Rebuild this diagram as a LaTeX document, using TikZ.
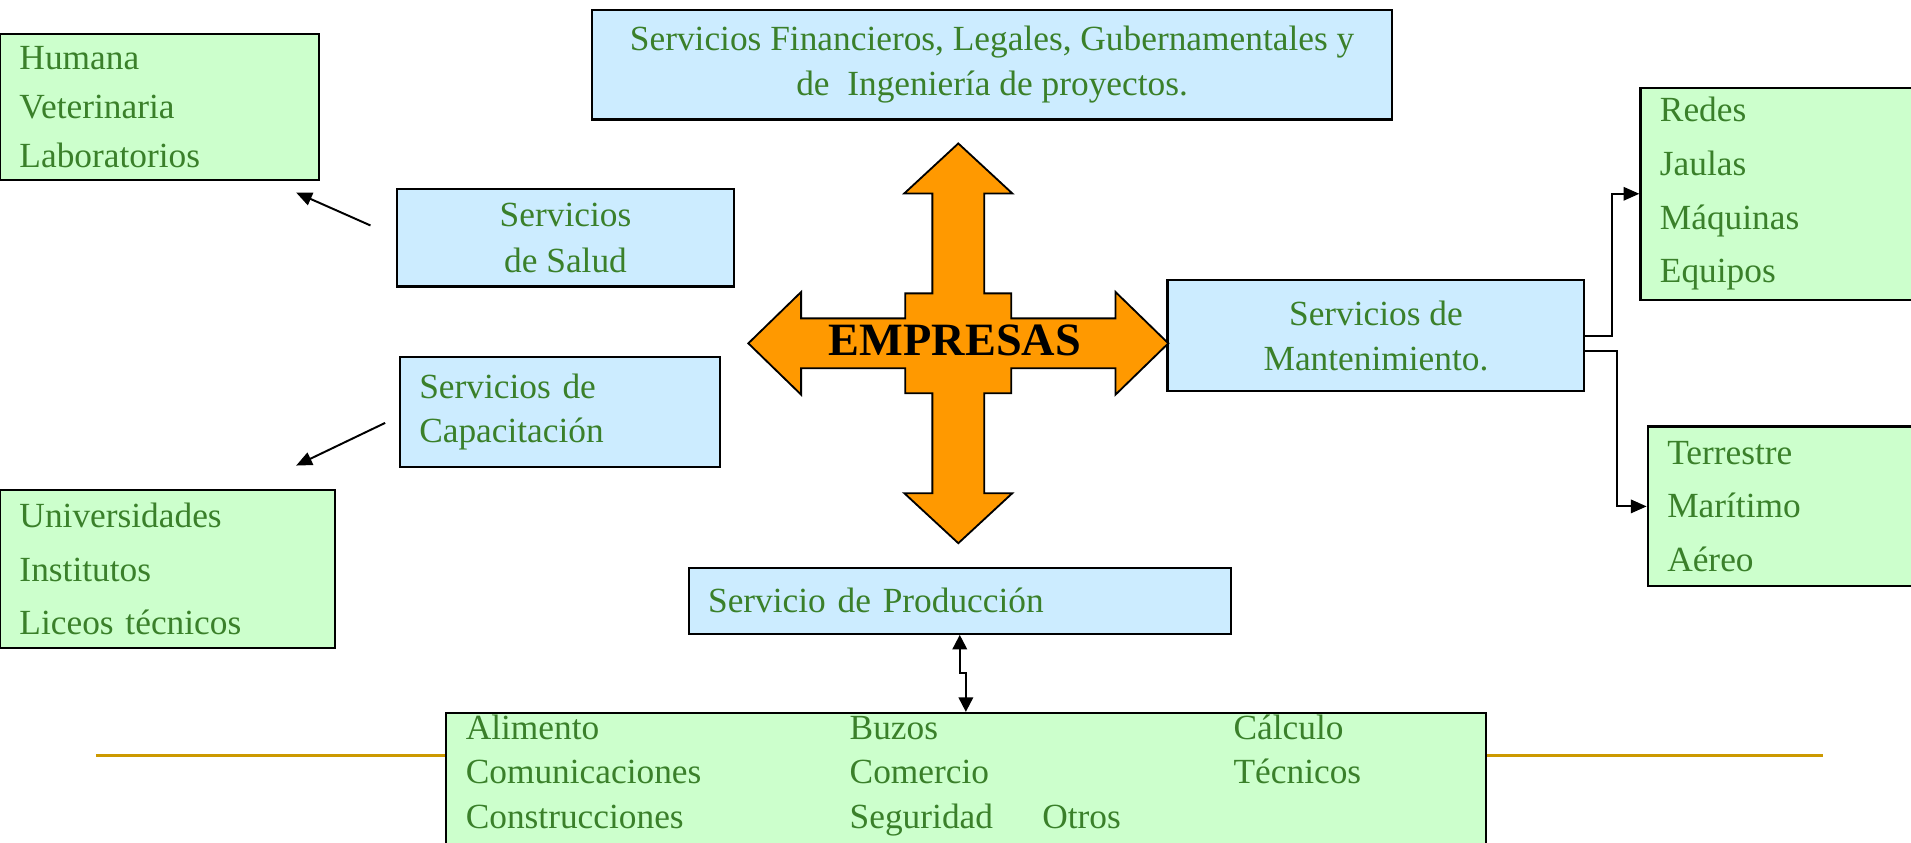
\documentclass[tikz,border=0pt]{standalone}
\usepackage{fontspec}
\setmainfont{Liberation Serif}
\usetikzlibrary{arrows.meta}
\definecolor{txtgreen}{RGB}{58,128,42}
\definecolor{boxblue}{RGB}{204,236,255}
\definecolor{boxgreen}{RGB}{204,255,204}
\definecolor{crossorange}{RGB}{255,153,0}
\definecolor{goldline}{RGB}{204,153,0}
\begin{document}
\begin{tikzpicture}[x=1pt,y=-1pt,
  fs/.style={font=\fontsize{29}{#1}\selectfont},
  bluebox/.style={draw=black,line width=1.8pt,fill=boxblue,text=txtgreen,inner sep=0pt},
  greenbox/.style={draw=black,line width=1.8pt,fill=boxgreen,text=txtgreen,inner sep=0pt},
  lbox/.style={align=left,inner xsep=16pt},
  cbox/.style={align=center},
  btxt/.style={text=txtgreen,fs=36,inner sep=0pt,anchor=base west},
  conn/.style={line width=1.6pt,-{Triangle[length=13pt,width=11pt]}},
  dconn/.style={line width=1.6pt,{Triangle[length=12pt,width=12pt]}-{Triangle[length=12pt,width=12pt]}},
  cross/.style={draw=black,line width=1.5pt,fill=crossorange,line join=miter}
]
\useasboundingbox (0,0) rectangle (1568,691);
\clip (0,0) rectangle (1568,691);
\fill[white] (0,0) rectangle (1568,691);

% gold rule behind bottom box
\coordinate (g1) at (79,620);
\coordinate (g2) at (1496,620);
\draw[goldline,line width=3pt] (g1) -- (g2);

% top box
\node[bluebox,cbox,fs=37,minimum width=656pt,minimum height=90pt] (fin) at (814,53)
  {Servicios Financieros, Legales, Gubernamentales y\\de\ \ Ingeniería de proyectos.};

% left side
\node[greenbox,lbox,fs=40,text width=230pt,minimum height=120pt] (hum) at (131,88)
  {Humana\\Veterinaria\\Laboratorios};
\node[bluebox,cbox,fs=38,minimum width=276pt,minimum height=80pt] (salud) at (464,195)
  {Servicios\\de Salud};
\node[bluebox,lbox,fs=36,text width=231pt,minimum height=90pt] (cap) at (459.5,338)
  {Servicios de\\Capacitación};
\node[greenbox,lbox,fs=44,text width=243pt,minimum height=130pt] (uni) at (137.5,467)
  {Universidades\\Institutos\\Liceos técnicos};

\coordinate (sa1) at (304,185);
\coordinate (sa2) at (243,158);
\draw[conn] (sa1) -- (sa2);
\coordinate (ca1) at (316,347);
\coordinate (ca2) at (243,382);
\draw[conn] (ca1) -- (ca2);

% right side
\node[bluebox,cbox,fs=37,minimum width=342pt,minimum height=91pt] (mant) at (1129,275.5)
  {Servicios de\\Mantenimiento.};
\node[greenbox,lbox,fs=44,text width=228pt,minimum height=174pt] (redes) at (1476,159)
  {Redes\\Jaulas\\Máquinas\\Equipos};
\node[greenbox,lbox,fs=44,text width=228pt,minimum height=131pt] (terr) at (1482,415.5)
  {Terrestre\\Marítimo\\Aéreo};

\draw[conn,line width=1.8pt] (mant.east) -- ++(22,0) |- (redes.west);
\draw[conn,line width=1.8pt] ([yshift=-12.5pt]mant.east) -- ++(26,0) |- (terr.west);

% central cross arrow
\begin{scope}[shift={(786.3,281.7)}]
\draw[cross] (0,-164) -- (44.3,-123) -- (21.3,-123) -- (21.3,-41) -- (43.5,-41)
  -- (43.5,-20.5) -- (129,-20.5) -- (129,-42.1) -- (172.3,0) -- (129,42.1)
  -- (129,20.5) -- (43.5,20.5) -- (43.5,41) -- (21.3,41) -- (21.3,123)
  -- (44.3,123) -- (0,164) -- (-44.3,123) -- (-21.3,123) -- (-21.3,41)
  -- (-43.5,41) -- (-43.5,20.5) -- (-129,20.5) -- (-129,42.1) -- (-172.3,0)
  -- (-129,-42.1) -- (-129,-20.5) -- (-43.5,-20.5) -- (-43.5,-41) -- (-21.3,-41)
  -- (-21.3,-123) -- (-44.3,-123) -- cycle;
\end{scope}
\node[font=\fontsize{38}{38}\selectfont\bfseries,inner sep=0pt,anchor=base] (emp) at (783.6,291.3) {EMPRESAS};

% production
\node[bluebox,lbox,fs=36,text width=413pt,minimum height=54pt] (prod) at (787.5,493)
  {Servicio de Producción};
\node[greenbox,minimum width=853pt,minimum height=150pt] (bot) at (792.5,660) {};
\draw[dconn] (prod.south) -- ++(0,31) -| (bot.north);

\node[btxt] (b11) at (382,607) {Alimento};
\node[btxt] (b21) at (382,643) {Comunicaciones};
\node[btxt] (b31) at (382,680) {Construcciones};
\node[btxt] (b12) at (697,607) {Buzos};
\node[btxt] (b22) at (697,643) {Comercio};
\node[btxt] (b32) at (697,680) {Seguridad};
\node[btxt] (b33) at (855,680) {Otros};
\node[btxt] (b13) at (1012,607) {Cálculo};
\node[btxt] (b23) at (1012,643) {Técnicos};
\end{tikzpicture}
\end{document}
